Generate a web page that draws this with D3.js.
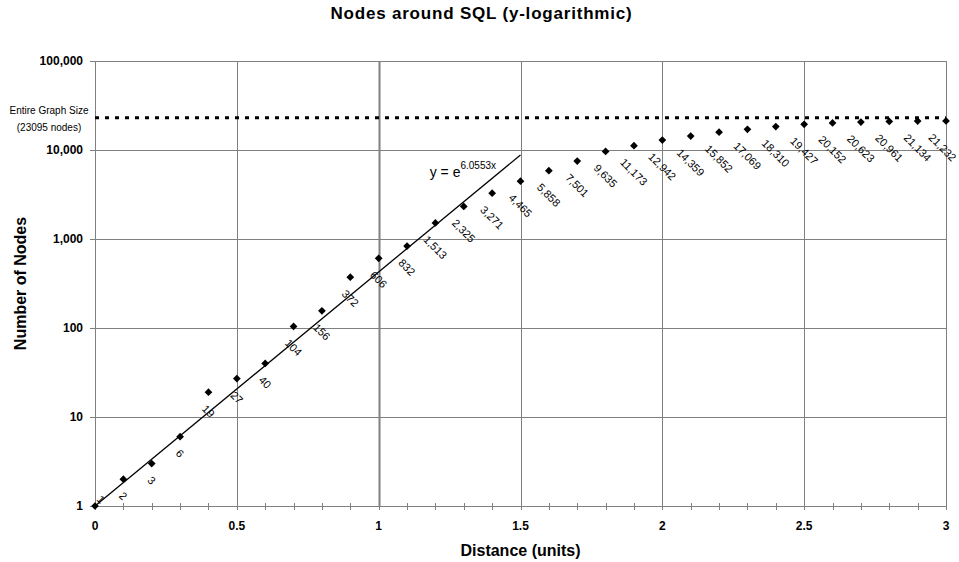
<!DOCTYPE html>
<html>
<head>
<meta charset="utf-8">
<script src="https://cdn.jsdelivr.net/npm/d3@7"></script>
<style>
  body { margin: 0; background: #fff; }
  text { font-family: "Liberation Sans", Arial, sans-serif; }
</style>
</head>
<body>
<div id="chart"></div>
<script>
const DISTANCE = d3.range(0, 31).map(i => i / 10);
const NODES = [1, 2, 3, 6, 19, 27, 40, 104, 156, 372, 606, 832, 1513, 2325, 3271, 4465,
               5858, 7501, 9635, 11173, 12942, 14359, 15852, 17069, 18310, 19427, 20152,
               20623, 20961, 21134, 21232];
const Y_TICKS = [1, 10, 100, 1000, 10000, 100000];
const X_TICKS = [0, 0.5, 1, 1.5, 2, 2.5, 3];
const GRAPH_SIZE = 23095;
const FIT_COEF = 6.0553;
const FIT_RANGE = [0, 1.5];

const WIDTH  = 959;
const HEIGHT = 562;
const MARGIN = { top: 61, right: 13, bottom: 56, left: 95 };
const INNER_WIDTH  = WIDTH - MARGIN.left - MARGIN.right;
const INNER_HEIGHT = HEIGHT - MARGIN.top - MARGIN.bottom;

const svg = d3.select('#chart').append('svg')
    .attr('width', WIDTH)
    .attr('height', HEIGHT);

const g = svg.append('g')
    .attr('transform', `translate(${MARGIN.left},${MARGIN.top})`);

const x = d3.scaleLinear().domain([0, 3]).range([0, INNER_WIDTH]);
const y = d3.scaleLog().domain([1, 100000]).range([INNER_HEIGHT, 0]);

// grid
g.selectAll('.hgrid')
    .data(Y_TICKS)
    .join('line')
    .attr('x1', -5).attr('x2', INNER_WIDTH)
    .attr('y1', d => Math.round(y(d)) + 0.5).attr('y2', d => Math.round(y(d)) + 0.5)
    .attr('stroke', '#808080').attr('stroke-width', 1);

g.selectAll('.vgrid')
    .data(X_TICKS)
    .join('line')
    .attr('x1', d => Math.round(x(d)) + 0.5).attr('x2', d => Math.round(x(d)) + 0.5)
    .attr('y1', 0).attr('y2', INNER_HEIGHT)
    .attr('stroke', '#808080')
    .attr('stroke-width', d => d === 1 ? 2 : 1);

// minor x ticks
g.selectAll('.xtick')
    .data(DISTANCE)
    .join('line')
    .attr('x1', d => Math.round(x(d)) + 0.5).attr('x2', d => Math.round(x(d)) + 0.5)
    .attr('y1', INNER_HEIGHT - 3).attr('y2', INNER_HEIGHT + 4)
    .attr('stroke', '#808080');

// tick labels
g.selectAll('.ylab')
    .data(Y_TICKS)
    .join('text')
    .attr('x', -12).attr('y', d => y(d) + 4)
    .attr('text-anchor', 'end')
    .attr('font-size', 12).attr('font-weight', 'bold')
    .text(d => d3.format(',')(d));

g.selectAll('.xlab')
    .data(X_TICKS)
    .join('text')
    .attr('x', d => x(d)).attr('y', INNER_HEIGHT + 24)
    .attr('text-anchor', 'middle')
    .attr('font-size', 12).attr('font-weight', 'bold')
    .text(d => d);

// graph size line
g.append('line')
    .attr('x1', 0).attr('x2', INNER_WIDTH)
    .attr('y1', y(GRAPH_SIZE)).attr('y2', y(GRAPH_SIZE))
    .attr('stroke', '#000').attr('stroke-width', 3)
    .attr('stroke-dasharray', '4,6');

g.append('text')
    .attr('x', -46).attr('y', y(GRAPH_SIZE) - 4)
    .attr('text-anchor', 'middle').attr('font-size', 10)
    .text('Entire Graph Size');
g.append('text')
    .attr('x', -46).attr('y', y(GRAPH_SIZE) + 13)
    .attr('text-anchor', 'middle').attr('font-size', 10)
    .text('(23095 nodes)');

// trend line y = e^(k x)
g.append('line')
    .attr('x1', x(FIT_RANGE[0])).attr('y1', y(Math.exp(FIT_COEF * FIT_RANGE[0])))
    .attr('x2', x(FIT_RANGE[1])).attr('y2', y(Math.exp(FIT_COEF * FIT_RANGE[1])))
    .attr('stroke', '#000').attr('stroke-width', 1.3);

const eq = g.append('text')
    .attr('x', x(1.18)).attr('y', y(Math.exp(FIT_COEF * 1.5)) + 22)
    .attr('font-size', 14);
eq.append('tspan').text('y = e');
eq.append('tspan').attr('dy', -8).attr('font-size', 10).text(FIT_COEF + 'x');

// points
g.selectAll('.pt')
    .data(NODES)
    .join('path')
    .attr('d', d3.symbol().type(d3.symbolSquare).size(30))
    .attr('transform', (d, i) => `translate(${x(DISTANCE[i])},${y(d)}) rotate(45)`)
    .attr('fill', '#000');

// value labels, rotated 45deg, placed below the point and kept inside the frame
const labels = g.selectAll('.vlab')
    .data(NODES)
    .join('text')
    .attr('font-size', 11)
    .attr('text-anchor', 'middle')
    .attr('dominant-baseline', 'central')
    .text(d => d3.format(',')(d));

labels.each(function (d, i) {
    const len = this.getComputedTextLength();
    const half = (len + 10) * 0.3536;
    let cx = x(DISTANCE[i]);
    let cy = y(d) + 11 + half;
    cy = Math.min(cy, INNER_HEIGHT - half - 1);
    if (cy < y(d) + 6) cx = Math.max(cx + 6, half);
    cx = Math.max(cx, half);
    cx = Math.min(cx, WIDTH - MARGIN.left - half - 1);
    d3.select(this).attr('transform', `translate(${cx},${cy}) rotate(45)`);
});

// titles
svg.append('text')
    .attr('x', WIDTH / 2 + 2).attr('y', 19)
    .attr('text-anchor', 'middle')
    .attr('font-size', 17).attr('font-weight', 'bold')
    .attr('letter-spacing', 0.8)
    .text('Nodes around SQL (y-logarithmic)');

svg.append('text')
    .attr('x', MARGIN.left + INNER_WIDTH / 2).attr('y', 556)
    .attr('text-anchor', 'middle')
    .attr('font-size', 16).attr('font-weight', 'bold')
    .text('Distance (units)');

svg.append('text')
    .attr('transform', `translate(26,${MARGIN.top + INNER_HEIGHT / 2}) rotate(-90)`)
    .attr('text-anchor', 'middle')
    .attr('font-size', 16).attr('font-weight', 'bold')
    .text('Number of Nodes');
</script>
</body>
</html>
